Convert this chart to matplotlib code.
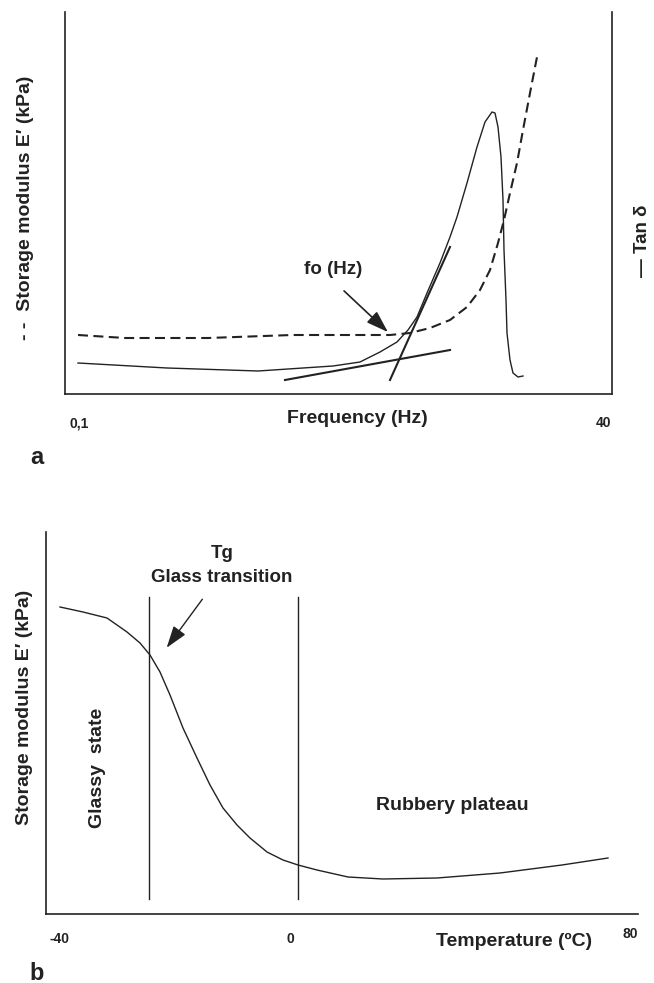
import matplotlib
matplotlib.use("Agg")
import matplotlib.pyplot as plt

plt.rcParams['font.family'] = ['Liberation Sans', 'DejaVu Sans']
plt.rcParams['font.weight'] = 'bold'

# ---- panel a: frequency sweep (arbitrary units) ----
# storage modulus E' (dashed)
mod_x = [13, 60, 143, 227, 295, 325, 345, 365, 385, 402, 415, 425, 433, 439, 445, 452, 458, 465, 472]
mod_y = [59, 56, 56, 59, 59, 59, 61, 66, 74, 87, 104, 124, 151, 174, 201, 231, 264, 301, 337]
# tan delta (solid)
tan_x = [13, 102, 193, 268, 295, 315, 332, 343, 352, 362, 375, 385, 392, 402, 412, 420, 427,
         430, 433, 436, 438, 439, 441, 442, 445, 448, 453, 458]
tan_y = [31, 26, 23, 28, 32, 42, 52, 64, 77, 101, 131, 157, 177, 211, 247, 272, 282,
         281, 267, 237, 194, 144, 94, 61, 34, 21, 17, 18]
# tangent lines used to find fo
tan1_x = [220, 385]
tan1_y = [14, 44]
tan2_x = [325, 385]
tan2_y = [14, 147]
freq_ticks = [14, 539]
freq_labels = ['0,1', '40']

# ---- panel b: temperature sweep (arbitrary units) ----
temp_x = [14, 37, 61, 81, 94, 104, 114, 124, 137, 151, 164, 177, 191, 204, 221, 237, 252, 271,
          302, 337, 391, 454, 516, 562]
temp_y = [307, 302, 296, 282, 271, 259, 242, 219, 186, 156, 129, 106, 89, 76, 62, 54, 49, 44,
          37, 35, 36, 41, 49, 56]
region_lines = [103, 251.5]
temp_ticks = [14, 244, 584]
temp_labels = ['-40', '0', '80']

fig = plt.figure(figsize=(6.54, 9.83), dpi=100)

# panel a
ax1 = fig.add_axes([65/654, 1-394/983, 547/654, 382/983])
ax1.plot(mod_x, mod_y, color='#222222', lw=1.5, ls=(0, (4.8, 2.6)))
ax1.plot(tan_x, tan_y, color='#222222', lw=1.0)
ax1.plot(tan1_x, tan1_y, color='#222222', lw=1.5)
ax1.plot(tan2_x, tan2_y, color='#222222', lw=1.5)
ax1.annotate('', xy=(325, 60), xytext=(277, 105),
             arrowprops=dict(arrowstyle='-|>,head_length=0.9,head_width=0.3',
                             color='#222222', lw=1.2, mutation_scale=15))
ax1.text(268, 124, 'fo (Hz)', fontsize=13.5, ha='center', va='center', color='#222222')
ax1.set_xlim(0, 547)
ax1.set_ylim(0, 382)
ax1.spines['top'].set_visible(False)
for s in ['left', 'right', 'bottom']:
    ax1.spines[s].set_linewidth(1.2)
    ax1.spines[s].set_color('#222222')
ax1.set_xticks(freq_ticks)
ax1.set_xticklabels(freq_labels, fontsize=10, fontweight='bold', color='#222222')
ax1.tick_params(axis='x', length=0, pad=16)
ax1.set_yticks([])
ax1.text(0.534, -0.065, 'Frequency (Hz)', transform=ax1.transAxes, fontsize=14,
         ha='center', va='center', color='#222222')
ax1.text(-0.073, 0.487, '- -  Storage modulus E\u2032 (kPa)', transform=ax1.transAxes,
         fontsize=14, rotation=90, ha='center', va='center', color='#222222')
ax1.text(1.056, 0.40, '\u2014 Tan \u03b4', transform=ax1.transAxes,
         fontsize=13.5, rotation=90, ha='center', va='center', color='#222222')
fig.text(37/654, 1-458/983, 'a', fontsize=17, ha='center', va='center', color='#222222')

# panel b
ax2 = fig.add_axes([46/654, 1-914/983, 592/654, 382/983])
ax2.plot(temp_x, temp_y, color='#222222', lw=1.0)
for xv in region_lines:
    ax2.plot([xv, xv], [15, 317], color='#222222', lw=1.0)
ax2.annotate('', xy=(119, 264), xytext=(158, 317),
             arrowprops=dict(arrowstyle='-|>,head_length=0.9,head_width=0.3',
                             color='#222222', lw=1.0, mutation_scale=15))
ax2.text(176, 361, 'Tg', fontsize=13.5, ha='center', va='center', color='#222222')
ax2.text(176, 337, 'Glass transition', fontsize=13.5, ha='center', va='center', color='#222222')
ax2.text(51, 146, 'Glassy  state', fontsize=14, rotation=90, ha='center', va='center', color='#222222')
ax2.text(406, 108, 'Rubbery plateau', fontsize=14, ha='center', va='center', color='#222222')
ax2.set_xlim(0, 592)
ax2.set_ylim(0, 382)
ax2.spines['top'].set_visible(False)
ax2.spines['right'].set_visible(False)
for s in ['left', 'bottom']:
    ax2.spines[s].set_linewidth(1.2)
    ax2.spines[s].set_color('#222222')
ax2.set_xticks(temp_ticks)
ax2.set_xticklabels(temp_labels, fontsize=10, fontweight='bold', color='#222222')
ax2.tick_params(axis='x', length=0, pad=13)
ax2.xaxis.get_major_ticks()[2].set_pad(9)
ax2.set_yticks([])
ax2.text(0.79, -0.071, 'Temperature (\u00baC)', transform=ax2.transAxes, fontsize=14,
         ha='center', va='center', color='#222222')
fig.text(25/654, 1-707/983, 'Storage modulus E\u2032 (kPa)', fontsize=14, rotation=90,
         ha='center', va='center', color='#222222')
fig.text(37/654, 1-973/983, 'b', fontsize=17, ha='center', va='center', color='#222222')

fig.savefig('out.png', dpi=100)
